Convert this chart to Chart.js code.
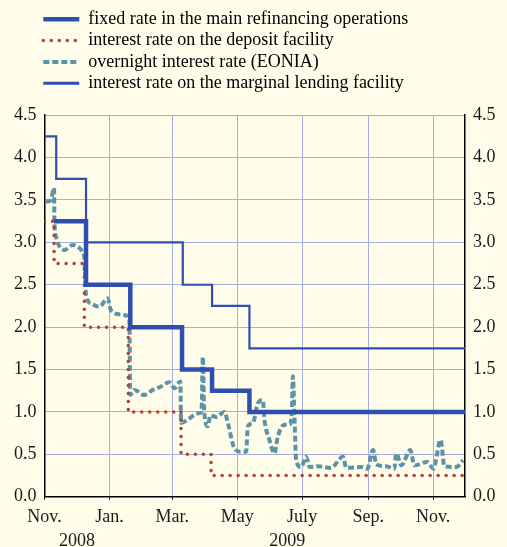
<!DOCTYPE html>
<html>
<head>
<meta charset="utf-8">
<script src="https://cdn.jsdelivr.net/npm/chart.js@4.4.1/dist/chart.umd.min.js"></script>
<style>
  html, body { margin: 0; padding: 0; background: #fffde9; }
  #wrap { width: 507px; height: 547px; position: relative; }
</style>
</head>
<body>
<div id="wrap"><canvas id="ratesChart"></canvas></div>
<script>
// x values are days counted from 1 November 2008
const monthTicks = [0, 61, 120, 181, 242, 304, 365];
const monthLabels = ['Nov.', 'Jan.', 'Mar.', 'May', 'July', 'Sep.', 'Nov.'];
const yearTicks = [30.5, 228];
const yearLabels = ['2008', '2009'];

// main refinancing operations (fixed rate), value holds until next day in list
const mroDays = [9, 39, 80.6, 129.2, 157.4, 192.5, 395];
const mroRates = [3.25, 2.50, 2.00, 1.50, 1.25, 1.00, 1.00];

// deposit facility
const depositDays = [0, 9, 37.4, 78.7, 128.3, 156.5, 395];
const depositRates = [3.25, 2.75, 2.00, 1.00, 0.50, 0.25, 0.25];

// marginal lending facility
const lendingDays = [0, 11, 39, 129.9, 157.4, 192.5, 395];
const lendingRates = [4.25, 3.75, 3.00, 2.50, 2.25, 1.75, 1.75];

// EONIA
const eoniaDays = [1.3, 6, 9, 9.3, 10.7, 18.5, 26.4, 35.8, 37.3, 39, 43.6, 51.4, 59.3, 62.4, 71.9, 78.7,
  79.8, 80.5, 84.4, 93.5, 101.7, 109.5, 117.3, 122, 127.6, 128.3, 134.6, 144, 147.5, 148.7, 150,
  153.4, 155.8, 161.2, 169, 172.2, 178.4, 184.7, 189.4, 191, 195.7, 200.4, 205.1, 206.6, 211.3,
  216, 219.2, 225.4, 230.1, 232.4, 233.3, 234.8, 236.4, 241.1, 245.8, 249, 256.8, 269, 280.4,
  283.5, 297.6, 303.2, 308.6, 311.7, 321, 328.6, 330.4, 335.2, 343.6, 347.4, 359.6, 365.3, 372.1,
  375.6, 386.9, 393.2];
const eoniaRates = [3.48, 3.50, 3.64, 3.27, 3.07, 2.91, 2.97, 2.89, 2.83, 2.38, 2.28, 2.24, 2.34, 2.20, 2.15, 2.13,
  2.05, 1.20, 1.26, 1.20, 1.26, 1.30, 1.35, 1.28, 1.36, 0.87, 0.91, 0.98, 1.00, 1.65, 1.02,
  0.83, 0.96, 0.94, 1.00, 0.87, 0.57, 0.53, 0.53, 0.83, 0.87, 1.10, 1.14, 0.91, 0.67,
  0.51, 0.71, 0.85, 0.85, 1.02, 1.42, 0.94, 0.43, 0.35, 0.47, 0.35, 0.36, 0.34, 0.47,
  0.34, 0.35, 0.33, 0.55, 0.38, 0.36, 0.33, 0.51, 0.37, 0.55, 0.37, 0.41, 0.33, 0.67,
  0.36, 0.35, 0.43];

const seriesNames = [
  'fixed rate in the main refinancing operations',
  'interest rate on the deposit facility',
  'overnight interest rate (EONIA)',
  'interest rate on the marginal lending facility'
];

function toPoints(xs, ys) {
  return xs.map((x, i) => ({x: x, y: ys[i]}));
}

const FONT = '"Liberation Serif", "Times New Roman", serif';
const BLUE = '#2f4fb0';
const RED = '#b93c33';
const TEAL = '#5b93a7';
const GRID = '#a6ade6';

// legend needs more room below, and starts further right
const legendPlacer = {
  id: 'legendPlacer',
  beforeInit(chart) {
    const fit = chart.legend.fit;
    chart.legend.fit = function () {
      fit.call(this);
      this.height += 13;
    };
  },
  afterLayout(chart) {
    chart.legend.left += 40;
    chart.legend.right += 40;
  }
};

const datasets = [
  {
    label: seriesNames[0],
    data: toPoints(mroDays, mroRates),
    borderColor: BLUE,
    borderWidth: 4.5,
    stepped: true,
    legendWidth: 4.5
  },
  {
    label: seriesNames[1],
    data: toPoints(depositDays, depositRates),
    borderColor: RED,
    borderWidth: 3.5,
    borderDash: [0, 8],
    borderCapStyle: 'round',
    stepped: true,
    legendWidth: 3.5
  },
  {
    label: seriesNames[2],
    data: toPoints(eoniaDays, eoniaRates),
    borderColor: TEAL,
    borderWidth: 4,
    borderDash: [6, 3],
    cubicInterpolationMode: 'monotone',
    legendWidth: 4
  },
  {
    label: seriesNames[3],
    data: toPoints(lendingDays, lendingRates),
    borderColor: BLUE,
    borderWidth: 2.2,
    stepped: true,
    legendWidth: 3
  }
];

new Chart(document.getElementById('ratesChart'), {
  type: 'line',
  data: {datasets: datasets},
  options: {
    responsive: true,
    maintainAspectRatio: false,
    animation: false,
    layout: {padding: {top: 7, left: 0, right: 0, bottom: 0}},
    elements: {point: {radius: 0}},
    plugins: {
      tooltip: {enabled: false},
      legend: {
        position: 'top',
        align: 'start',
        labels: {
          usePointStyle: true,
          pointStyleWidth: 36,
          padding: 3.3,
          color: '#1a1a1a',
          font: {family: FONT, size: 18},
          generateLabels: chart => chart.data.datasets.map((ds, i) => ({
            text: ds.label,
            strokeStyle: ds.borderColor,
            fillStyle: ds.borderColor,
            lineWidth: ds.legendWidth,
            lineDash: ds.borderDash || [],
            lineCap: ds.borderCapStyle || 'butt',
            pointStyle: 'line',
            datasetIndex: i,
            hidden: false
          }))
        }
      }
    },
    scales: {
      x: {
        type: 'linear',
        position: 'bottom',
        min: 0,
        max: 395,
        afterBuildTicks: scale => { scale.ticks = monthTicks.map(v => ({value: v})); },
        afterFit: scale => { scale.height = 31; },
        ticks: {
          autoSkip: false,
          maxRotation: 0,
          minRotation: 0,
          padding: 7,
          color: '#1a1a1a',
          font: {family: FONT, size: 18},
          callback: (v) => monthLabels[monthTicks.indexOf(v)]
        },
        grid: {color: GRID, lineWidth: 1, tickLength: 3, tickColor: '#000'},
        border: {color: '#000', width: 1.5}
      },
      xYear: {
        type: 'linear',
        position: 'bottom',
        min: 0,
        max: 395,
        afterBuildTicks: scale => { scale.ticks = yearTicks.map(v => ({value: v})); },
        afterFit: scale => { scale.height = 19.3; },
        ticks: {
          autoSkip: false,
          maxRotation: 0,
          padding: 3,
          color: '#1a1a1a',
          font: {family: FONT, size: 18},
          callback: (v) => yearLabels[yearTicks.indexOf(v)]
        },
        grid: {display: false, drawTicks: false},
        border: {display: false}
      },
      y: {
        position: 'left',
        min: 0,
        max: 4.5,
        afterFit: scale => { scale.width = 44.5; },
        ticks: {
          stepSize: 0.5,
          padding: 8,
          color: '#1a1a1a',
          font: {family: FONT, size: 18},
          callback: v => v.toFixed(1)
        },
        grid: {color: GRID, lineWidth: 1, drawTicks: false},
        border: {color: '#000', width: 1.5}
      },
      yRight: {
        position: 'right',
        min: 0,
        max: 4.5,
        afterFit: scale => { scale.width = 42; },
        ticks: {
          stepSize: 0.5,
          padding: 8,
          color: '#1a1a1a',
          font: {family: FONT, size: 18},
          callback: v => v.toFixed(1)
        },
        grid: {drawOnChartArea: false, drawTicks: false},
        border: {color: '#000', width: 1.5}
      }
    }
  },
  plugins: [legendPlacer]
});
</script>
</body>
</html>
